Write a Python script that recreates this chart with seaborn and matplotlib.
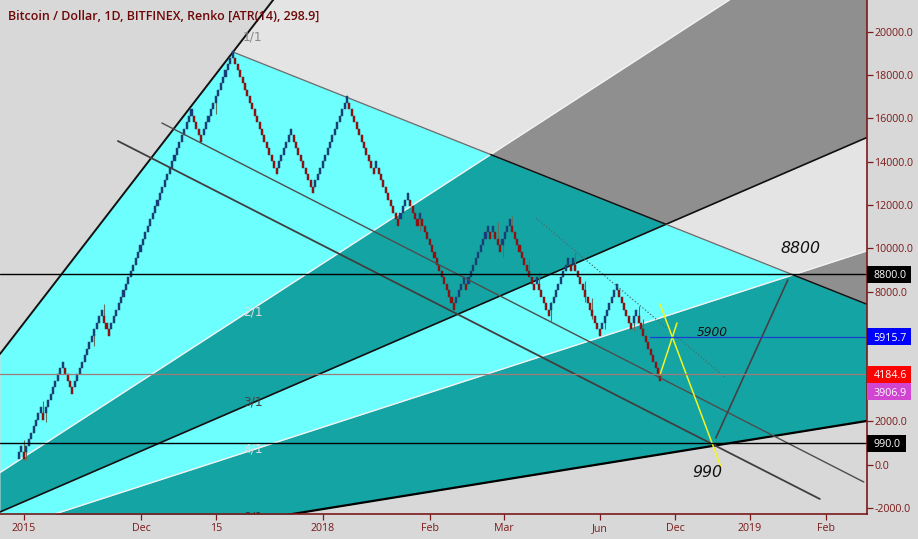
import numpy as np
import pandas as pd
import matplotlib
matplotlib.use("Agg")
import matplotlib.pyplot as plt
from matplotlib.patches import Rectangle
from matplotlib.transforms import blended_transform_factory
import seaborn as sns

TITLE = "Bitcoin / Dollar, 1D, BITFINEX, Renko [ATR(14), 298.9]"
brick_size = 298.9
brick_base = 3870.0
first_open_level = -12
brick_levels = [
    -11, -10, -12, -10, -9, -8, -7, -6, -5, -4,
    -6, -4, -3, -2, -1, 0, 1, 2, 3,
    1, 0, -1, -2,
    0, 1, 2, 3,
    4, 5, 6, 7, 8, 9, 10, 11,
    9, 8, 7,
    9, 10, 11, 12, 13, 14, 15, 16, 17, 18, 19, 20, 21, 22, 23, 24, 25,
    26, 27, 28, 29, 30, 31, 32, 33, 34, 35, 36, 37, 38, 39, 40, 41, 42,
    40, 39, 38, 37,
    39, 40, 41, 42, 43, 44, 45, 46, 47, 48, 49, 50, 51,
    49, 48, 47, 46, 45, 44, 43, 42, 41, 40, 39, 38, 37, 36, 35, 34, 33, 32,
    34, 35, 36, 37, 38, 39,
    37, 36, 35, 34, 33, 32, 31, 30, 29,
    31, 32, 33, 34, 35, 36, 37, 38, 39, 40, 41, 42, 43, 44,
    42, 41, 40, 39, 38, 37, 36, 35, 34, 33, 32,
    34,
    32, 31, 30, 29, 28, 27, 26, 25, 24,
    26, 27, 28, 29,
    27, 26, 25, 24,
    26,
    24, 23, 22, 21, 20, 19, 18, 17, 16, 15, 14, 13, 12, 11,
    13, 14, 15, 16,
    14,
    16, 17, 18, 19, 20, 21, 22, 23, 24,
    22, 24, 22, 21, 20,
    22, 23, 24, 25,
    23, 22, 21, 20, 19, 18, 17, 16, 15, 14,
    16,
    14, 13, 12, 11, 10,
    12, 13, 14, 15, 16, 17, 18, 19,
    17, 19,
    17, 16, 15, 14, 13, 12, 11, 10, 9, 8, 7,
    9, 10, 11, 12, 13, 14, 15,
    13, 12, 11, 10, 9, 8,
    10, 11,
    9, 8, 7, 6, 5, 4, 3, 2, 1, 0,
]

wick_bar = [2, 3, 10, 11, 31, 35, 81, 165, 197, 199, 203, 210, 214, 219, 229, 233, 236, 241, 253, 255, 257]
wick_high = [1139, 815, 2945, 2667, 6278, 7436, 16788, 11695, 11232, 10445, 11510, 9519, 8917, 7529, 9843, 8500, 7714, 6880, 6880, 7343, 6741]
wick_low = [213, 213, 2250, 1972, 5491, 6741, 16186, 10815, 10445, 9612, 10769, 8732, 8361, 6649, 9056, 7529, 6741, 6278, 6186, 6602, 6000]

fan_origin = (-83.1, -5836.0)
fan_peak = (88.07, 19071.0)
fan_ratios = [1, 2, 3, 4, 8]
fan_labels = ["1/1", "2/1", "3/1", "4/1", "8/1"]
fan_label_prices = [19764, 7057, 2897, 725, -2417]
down_end = (348.7, 7426.0)

channel_a_x, channel_a_y = [58.8, 347.7], [15790, -800]
channel_b_x, channel_b_y = [40.7, 329.6], [14958, -1585]
dotted_x, dotted_y = [212.8, 290.5], [11400, 4053]
yellow1_x, yellow1_y = [263.8, 270.8], [4145, 6548]
yellow2_x, yellow2_y = [263.8, 288.9], [7426, -106]
dark_x, dark_y = [286.8, 316.4], [1234, 8535]

level_prices = [8800.0, 990.0, 4184.6, 5915.7, 3906.9]
tag_prices = [8800.0, 990.0, 4184.6, 5915.7, 3382.0]
tag_colors = ["#000000", "#000000", "#ff0000", "#0000ff", "#d244d2"]
tag_widths = [44, 39, 44, 44, 44]

ytick_values = [-2000, 0, 2000, 8000, 10000, 12000, 14000, 16000, 18000, 20000]
xtick_bars = [2.06, 50.2, 81.2, 125.1, 169.1, 199.6, 239.1, 270.0, 300.8, 332.1]
xtick_labels = ["2015", "Dec", "15", "2018", "Feb", "Mar", "Jun", "Dec", "2019", "Feb"]

sns.set_theme(style="white")
plt.rcParams["font.family"] = ["Open Sans", "DejaVu Sans"]

BG, LIGHT, DARK, CYAN, TEAL = "#d8d8d8", "#e4e4e4", "#8f8f8f", "#6dfefe", "#15a4a4"
MAROON = "#7a1a1a"

fig = plt.figure(figsize=(9.18, 5.39), dpi=100, facecolor=BG)
ax = fig.add_axes([0, 25 / 539, 866.5 / 918, 514 / 539], facecolor=BG)
XMIN, XMAX, YMIN, YMAX = -7.82, 348.8, -2278, 21474

def draw(xs, ys, color, lw, ls="-", z=4):
    d = pd.DataFrame({"x": xs, "y": ys})
    sns.lineplot(data=d, x="x", y="y", color=color, linewidth=lw, linestyle=ls,
                 estimator=None, sort=False, legend=False, ax=ax, zorder=z)

grid = np.linspace(XMIN, XMAX, 3000)
slope = (fan_peak[1] - fan_origin[1]) / (fan_peak[0] - fan_origin[0])
def fan(r, x):
    return fan_origin[1] + slope / r * (np.asarray(x) - fan_origin[0])
down_slope = (down_end[1] - fan_peak[1]) / (down_end[0] - fan_peak[0])
def down(x):
    return fan_peak[1] + down_slope * (np.asarray(x) - fan_peak[0])
def crossing(r):
    return (fan_peak[1] - down_slope * fan_peak[0] - fan_origin[1] + slope / r * fan_origin[0]) / (slope / r - down_slope)

d = down(grid)
for (r1, r2, below, above) in [(1, 2, CYAN, LIGHT), (2, 3, TEAL, DARK), (3, 4, CYAN, LIGHT), (4, 8, TEAL, DARK)]:
    lo, hi = fan(r2, grid), fan(r1, grid)
    ax.fill_between(grid, np.minimum(lo, d), np.minimum(hi, d), color=below, lw=0, zorder=1)
    ax.fill_between(grid, np.maximum(lo, d), np.maximum(hi, d), color=above, lw=0, zorder=1)

for r, col, lw in [(1, "#111111", 1.4), (2, "#f2f2f2", 1.0), (3, "#111111", 1.2), (4, "#f2f2f2", 1.0), (8, "#000000", 1.6)]:
    draw(grid, fan(r, grid), col, lw, z=2)

draw([fan_peak[0], down_end[0]], [fan_peak[1], down_end[1]], "#6a6a6a", 0.9, z=2)
for a, b in [(crossing(2), crossing(3)), (crossing(4), down_end[0])]:
    draw([a, b], [down(a), down(b)], "#111111", 1.0, z=2)

closes = brick_base + brick_size * np.array(brick_levels, dtype=float)
levels = [first_open_level] + brick_levels
opens, direction = [], 1
prev_open = first_open_level
for i, lv in enumerate(brick_levels):
    new_dir = 1 if lv > levels[i] else -1
    o = levels[i] if new_dir == direction else prev_open
    opens.append(o)
    prev_open, direction = o, new_dir
opens = brick_base + brick_size * np.array(opens, dtype=float)
bars = np.arange(len(brick_levels))
up = closes > opens

ax.vlines(wick_bar, wick_low, wick_high, color="#5f6f60", lw=0.8, zorder=3)
ax.bar(bars[up], (closes - opens)[up], bottom=opens[up], width=0.85, color="#123a86", edgecolor="#24505a", linewidth=0.35, zorder=3.2)
ax.bar(bars[~up], (closes - opens)[~up], bottom=opens[~up], width=0.85, color="#a30808", edgecolor="#5a3030", linewidth=0.35, zorder=3.2)

draw(channel_a_x, channel_a_y, "#4d4d4d", 1.0)
draw(channel_b_x, channel_b_y, "#3f3f3f", 1.3)
draw(dotted_x, dotted_y, "#4a6a6a", 0.9, ":")
draw(yellow1_x, yellow1_y, "#f4f41e", 1.1)
draw(yellow2_x, yellow2_y, "#f4f41e", 1.1)
draw(dark_x, dark_y, "#454045", 1.2)

draw([XMIN, XMAX], [level_prices[0]] * 2, "#000000", 1.0)
draw([XMIN, XMAX], [level_prices[1]] * 2, "#000000", 1.0)
draw([XMIN, XMAX], [level_prices[2]] * 2, "#a07a7a", 0.9)
draw([259.7, XMAX], [level_prices[3]] * 2, "#1a3fd0", 0.9)

ax.set_xlim(XMIN, XMAX)
ax.set_ylim(YMIN, YMAX)
ax.set_xlabel("")
ax.set_ylabel("")
ax.yaxis.tick_right()
ax.set_yticks(ytick_values)
ax.set_yticklabels([f"{v:.1f}" for v in ytick_values])
ax.set_xticks(xtick_bars)
ax.set_xticklabels(xtick_labels)
ax.tick_params(axis="x", pad=2.5)
ax.tick_params(axis="y", pad=1.8)
ax.tick_params(axis="both", colors=MAROON, labelcolor=MAROON, labelsize=7.7, length=4, width=0.9,
               left=False, right=True, bottom=True, top=False)
for s in ["top", "left"]:
    ax.spines[s].set_visible(False)
for s in ["right", "bottom"]:
    ax.spines[s].set_color(MAROON)
    ax.spines[s].set_linewidth(1.2)
    ax.spines[s].set_zorder(6)

# fan labels
label_bar = 96.2
label_color = ["#8a8a8a", "#dcdcdc", "#444444", "#dcdcdc", "#333333"]
for p, t, c in zip(fan_label_prices, fan_labels, label_color):
    ax.text(label_bar, p, t, color=c, fontsize=8.8, ha="center", va="center", zorder=5,
            family=["DejaVu Sans"], clip_on=True)

# price tags
trans = blended_transform_factory(ax.transAxes, ax.transData)
tag_h = 785
tag_text = [8800.0, 990.0, 4184.6, 5915.7, 3906.9]
for p, c, w, v in zip(tag_prices, tag_colors, tag_widths, tag_text):
    ax.add_patch(Rectangle((1.0, p - tag_h / 2), w / 866.5, tag_h, transform=trans, facecolor=c,
                           edgecolor="none", clip_on=False, zorder=7))
    ax.text(1 + 7 / 866.5, p, f"{v:.1f}", transform=trans, color="white", fontsize=7.7, ha="left",
            va="center_baseline", zorder=8, clip_on=False)

for txt, bx, py, fs in [("8800", 321.5, 10000.0, 11.3), ("5900", 285.5, 6120, 8.8), ("990", 283.2, -370, 11.3)]:
    ax.text(bx, py, txt, style="italic", color="#111111", fontsize=fs, ha="center", va="center", zorder=5,
            family=["DejaVu Sans"])

fig.text(8 / 918, 1 - 16 / 539, TITLE, color="#6e0808", fontsize=8.97, weight="semibold", ha="left", va="center")
fig.savefig("out.png", dpi=100, facecolor=BG)
